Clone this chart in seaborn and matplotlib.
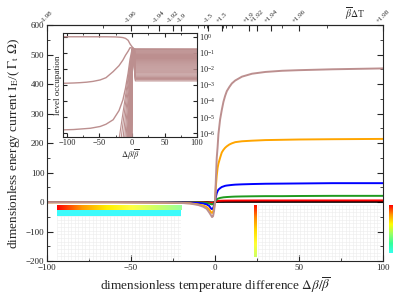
import numpy as np
import matplotlib
matplotlib.use("Agg")
import matplotlib.pyplot as plt
from matplotlib.colors import LinearSegmentedColormap
from matplotlib.ticker import NullLocator
import seaborn as sns

sns.set_style("ticks")
plt.rcParams['font.family'] = ['Liberation Serif', 'DejaVu Serif']
plt.rcParams['mathtext.fontset'] = 'stix'

# main panel: energy current vs dimensionless temperature difference
x_main = [-100, -60, -30, -20, -15, -10, -7, -5, -3.5, -2.4, -1.8, -1.2, -0.6, 0,
          0.5, 1, 1.5, 2, 3, 4, 5, 6, 7, 8.5, 10, 12, 16, 22, 30, 40, 50, 70, 100]
cur_brown = [-1, -1, -2, -3, -5, -10, -16, -23, -35, -45, -51, -48, -30, 0,
             80, 150, 185, 230, 280, 312, 340, 360, 376, 390, 402, 412, 425, 435, 441, 445, 447, 450, 453]
cur_orange = [-1, -1, -2, -3, -4, -8, -12, -17, -25, -35, -37, -33, -20, 0,
              55, 90, 115, 130, 150, 168, 177, 184, 189, 195, 199, 203, 206, 208, 210, 211, 212, 213, 214]
cur_blue = [0, 0, -1, -2, -2, -3, -5, -8, -13, -22, -24, -21, -12, 2,
            18, 30, 37, 42, 47, 51, 53, 55, 56, 57, 58, 59, 60, 61, 62, 62.5, 63, 64, 64]
cur_green = [0, 0, 0, -1, -1, -1, -2, -3, -5, -7, -8, -7, -4, 1,
             6, 9, 11, 12, 14, 15, 16, 16.5, 17, 17.5, 18, 18.5, 19, 19.5, 20, 20, 20.5, 21, 21]
cur_red = [0, 0, 0, 0, 0, -0.5, -1, -1.5, -2, -3, -3, -2.5, -1.5, 0.5,
           2, 3, 3.5, 4, 4.3, 4.5, 4.7, 4.8, 4.9, 5, 5, 5.1, 5.2, 5.3, 5.4, 5.4, 5.5, 5.5, 5.5]
cur_black = [0, 0, 0, 0, 0, 0, 0, 0, -0.5, -1, -1, -1, -0.5, 0,
             0.2, 0.3, 0.4, 0.5, 0.5, 0.5, 0.5, 0.6, 0.6, 0.6, 0.6, 0.6, 0.6, 0.6, 0.6, 0.6, 0.6, 0.6, 0.6]

# top axis: beta_bar * Delta T
top_pos = [-100, -50, -33.3, -25, -20, -4, 4, 20, 25, 33.3, 50, 100]
top_labels = ["-1.98", "-1.96", "-1.94", "-1.92", "-1.9", "-1.5", "+1.5",
              "+1.9", "+1.92", "+1.94", "+1.96", "+1.98"]
top_minor = [-66.7, -40, -10, -6.7, -5, 5, 6.7, 10, 40, 66.7]

# inset: level occupation (log10 of occupation)
x_top_line = [-106, -40, -25, -18, -14, -10, -6, -3, 0, 3, 6, 100]
log_top_line = [0, 0, -0.01, -0.03, -0.05, -0.1, -0.22, -0.45, -0.62, -0.74, -0.78, -0.78]
x_mid_line = [-106, -90, -80, -70, -60, -49, -40, -29, -20, -14, -10, -6, -3, 0, 3, 100]
log_mid_line = [-2.9, -2.88, -2.86, -2.83, -2.78, -2.69, -2.55, -2.17, -1.8, -1.45,
                -1.15, -0.9, -0.68, -0.7, -0.77, -0.78]
x_low_line = [-106, -90, -80, -64, -49, -40, -29, -20, -14, -10, -6, -3, 0, 3, 100]
log_low_line = [-5.8, -5.78, -5.75, -5.7, -5.59, -5.45, -5.17, -4.6, -3.93, -3.2,
                -2.27, -1.4, -0.8, -0.8, -0.8]
band_exp = [-0.78, -0.83, -0.88, -0.93, -0.99, -1.05, -1.11, -1.17, -1.23, -1.29, -1.35,
            -1.41, -1.47, -1.53, -1.59, -1.65, -1.71, -1.77, -1.83, -1.89, -1.95, -2.01,
            -2.07, -2.13, -2.19, -2.25, -2.32, -2.39, -2.46, -2.53, -2.6, -2.67, -2.75]
band_onset = [-20, -17, -14, -11.5, -9.5, -8, -7, -6.2, -5.5, -5, -4.6, -4.2, -3.9, -3.6,
              -3.3, -3.0, -2.8, -2.6, -2.4, -2.2, -2.0, -1.8, -1.6, -1.4, -1.2, -1.0,
              -0.9, -0.8, -0.7, -0.6, -0.5, -0.4, -0.3]

fig = plt.figure(figsize=(3.99, 2.98), dpi=100)
ax = fig.add_axes([0.118, 0.124, 0.842, 0.792])

series = [(cur_black, "black"), (cur_red, "#ff0000"), (cur_green, "#1f9a1f"),
          (cur_blue, "#0000ff"), (cur_orange, "#ffa500"), (cur_brown, "#bc8f8f")]
for vals, col in series:
    sns.lineplot(x=x_main, y=vals, ax=ax, color=col, lw=1.4, sort=False)

ax.set_xlim(-100, 100)
ax.set_ylim(-200, 600)
ax.set_xticks([-100, -50, 0, 50, 100])
ax.set_xticks([-75, -25, 25, 75], minor=True)
ax.set_yticks(range(-200, 601, 100))
ax.set_yticks(range(-150, 600, 100), minor=True)
ax.tick_params(direction="in", which="both", right=True, top=False, labelsize=6.5, pad=2)
ax.tick_params(which="major", length=4)
ax.tick_params(which="minor", length=2)
ax.set_xlabel(r"dimensionless temperature difference $\Delta\beta/\overline{\beta}$",
              fontsize=9.5, labelpad=3)
ax.set_ylabel(r"dimensionless energy current I$_\mathrm{E}$/( $\Gamma_\mathrm{t}$ $\Omega$)",
              fontsize=9.5, labelpad=3)

secax = ax.secondary_xaxis("top")
secax.set_xticks(top_pos, labels=top_labels)
secax.set_xticks(top_minor, minor=True)
secax.tick_params(direction="in", which="both", labelsize=5, labelrotation=45, pad=1)
secax.tick_params(which="major", length=4)
secax.tick_params(which="minor", length=2)
ax.text(0.917, 1.05, r"$\overline{\beta}\Delta$T", transform=ax.transAxes,
        fontsize=7, ha="center", va="center")

# colour strips and faint grid blocks under the zero line
cmap_h = LinearSegmentedColormap.from_list("h", ["#ff0000", "#ff9900", "#ffee00", "#ffff44", "#ccff66", "#99ff99"])
cmap_v2 = LinearSegmentedColormap.from_list("v2", ["#ccff66", "#ffff33", "#ffdd00", "#ff8800", "#ff0000"])
cmap_v3 = LinearSegmentedColormap.from_list("v3", ["#33ffee", "#33ff99", "#99ff66", "#ffff00", "#ff9900", "#ff0000"])
grad = np.linspace(0, 1, 256)


def strip(rect, cmap, horizontal):
    a = fig.add_axes(rect)
    img = grad[None, :] if horizontal else grad[:, None]
    a.imshow(img, cmap=cmap, aspect="auto", origin="lower")
    a.axis("off")


def grid_block(rect, nx, ny):
    a = fig.add_axes(rect, facecolor="none")
    a.set_xlim(0, 1)
    a.set_ylim(0, 1)
    a.set_xticks(np.linspace(0, 1, nx))
    a.set_yticks(np.linspace(0, 1, ny))
    a.grid(True, color="#ececec", lw=0.4)
    a.tick_params(length=0, labelbottom=False, labelleft=False)
    for s in a.spines.values():
        s.set_visible(False)


grid_block([0.143, 0.1275, 0.311, 0.148], 36, 13)
grid_block([0.6466, 0.1275, 0.308, 0.1846], 36, 16)
strip([0.143, 0.2953, 0.311, 0.0168], cmap_h, True)
cy = fig.add_axes([0.143, 0.275, 0.311, 0.0203])
cy.set_facecolor("#3dfbfb")
cy.set_xticks([])
cy.set_yticks([])
for s in cy.spines.values():
    s.set_visible(False)
strip([0.6366, 0.1376, 0.0075, 0.1745], cmap_v2, False)
strip([0.975, 0.151, 0.0088, 0.161], cmap_v3, False)

# inset
ax_in = fig.add_axes([0.158, 0.540, 0.336, 0.349])
ax_in.set_yscale("log")
inset_col = "#bc8f8f"
for exp, x0 in zip(band_exp, band_onset):
    sns.lineplot(x=[-106, x0, 0.8, 5, 100], y=[1e-9, 10 ** -6.4, 10 ** -0.72, 10 ** exp, 10 ** exp],
                 ax=ax_in, color=inset_col, lw=0.8, sort=False)
for xs, logs in [(x_low_line, log_low_line), (x_mid_line, log_mid_line), (x_top_line, log_top_line)]:
    sns.lineplot(x=xs, y=10.0 ** np.array(logs), ax=ax_in, color=inset_col, lw=1.0, sort=False)
ax_in.set_xlim(-106, 100)
ax_in.set_ylim(10 ** -6.25, 10 ** 0.23)
ax_in.set_xticks([-100, -50, 0, 50, 100])
ax_in.set_xticks([-75, -25, 25, 75], minor=True)
ax_in.set_yticks([1e0, 1e-1, 1e-2, 1e-3, 1e-4, 1e-5, 1e-6])
ax_in.yaxis.set_minor_locator(NullLocator())
ax_in.tick_params(direction="in", which="both", top=True, right=True,
                  labelleft=False, labelright=True, labelsize=6, pad=1.5)
ax_in.tick_params(which="major", length=3)
ax_in.tick_params(which="minor", length=1.5)
ax_in.set_xlabel(r"$\Delta\beta/\overline{\beta}$", fontsize=6, labelpad=0)
ax_in.set_ylabel("level occupation", fontsize=6.5, labelpad=1)

fig.savefig("out.png", dpi=100)
